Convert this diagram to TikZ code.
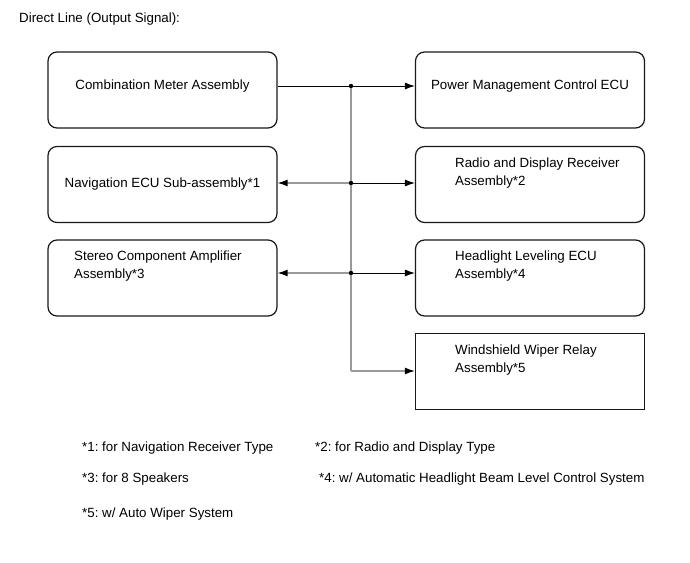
\documentclass[tikz,border=0pt]{standalone}
\usepackage{fontspec}
\setmainfont{Liberation Sans}
\usetikzlibrary{arrows.meta}
\frenchspacing
\tikzset{
  rbox/.style={draw=black!90, line width=1.2pt, rounded corners=9pt, minimum width=229pt, minimum height=76pt, inner sep=0pt},
  sbox/.style={draw=black!90, line width=1.2pt, minimum width=229pt, minimum height=76pt, inner sep=0pt},
  txt/.style={inner sep=0pt, font=\fontsize{13.33}{18}\selectfont},
  ltxt/.style={txt, anchor=base west, align=left},
  ctxt/.style={txt, anchor=base},
  blk/.style={draw=black, line width=0.9pt},
  gry/.style={draw=black!40, line width=1.3pt},
  tip/.style={-{Latex[length=10pt,width=7pt,black]}},
  dot/.style={fill=black}
}
\begin{document}
\begin{tikzpicture}[x=1pt,y=-1pt]
\useasboundingbox[fill=white] (0,0) rectangle (690,562);
\node[ltxt] (title) at (19,22) {\frenchspacing Direct Line (Output Signal):};
% boxes
\node[rbox] (cma) at (162.5,90) {};
\node[rbox] (pm)  at (530,90) {};
\node[rbox] (nav) at (162.5,184.5) {};
\node[rbox] (rd)  at (530,184.5) {};
\node[rbox] (st)  at (162.5,278) {};
\node[rbox] (hl)  at (530,278) {};
\node[sbox] (ws)  at (530,371.5) {};
% texts
\node[ctxt] (tcma) at (162.5,89) {Combination Meter Assembly};
\node[ctxt] (tpm)  at (530,89) {Power Management Control ECU};
\node[ctxt] (tnav) at (162.5,187) {Navigation ECU Sub-assembly*1};
\node[ltxt] (trd)  at (455,185) {Radio and Display Receiver\\Assembly*2};
\node[ltxt] (tst)  at (74,278) {Stereo Component Amplifier\\Assembly*3};
\node[ltxt] (thl)  at (455,278) {Headlight Leveling ECU\\Assembly*4};
\node[ltxt] (tws)  at (455,372) {Windshield Wiper Relay\\Assembly*5};
% junctions
\coordinate (j1) at (351,86);
\coordinate (j2) at (351,183);
\coordinate (j3) at (351,273);
\coordinate (j4) at (351,371);
% connectors
\draw[gry] (j1) -- (j4);
\draw[gry,tip] (j2) -- (nav.east |- j2);
\draw[gry,tip] (j3) -- (st.east |- j3);
\draw[gry,tip] (j4) -- (ws.west |- j4);
\draw[blk] (cma.east |- j1) -- (j1);
\draw[blk,tip] (j1) -- (pm.west |- j1);
\draw[blk,tip] (j2) -- (rd.west |- j2);
\draw[blk,tip] (j3) -- (hl.west |- j3);
\fill[dot] (j1) circle (2.2);
\fill[dot] (j2) circle (2.2);
\fill[dot] (j3) circle (2.2);
% footnotes
\node[ltxt] (f1) at (82,451) {\frenchspacing *1: for Navigation Receiver Type};
\node[ltxt] (f2) at (315,451) {\frenchspacing *2: for Radio and Display Type};
\node[ltxt] (f3) at (82,482) {\frenchspacing *3: for 8 Speakers};
\node[ltxt] (f4) at (319,482) {\frenchspacing *4: w/ Automatic Headlight Beam Level Control System};
\node[ltxt] (f5) at (82,517) {\frenchspacing *5: w/ Auto Wiper System};
\end{tikzpicture}
\end{document}
